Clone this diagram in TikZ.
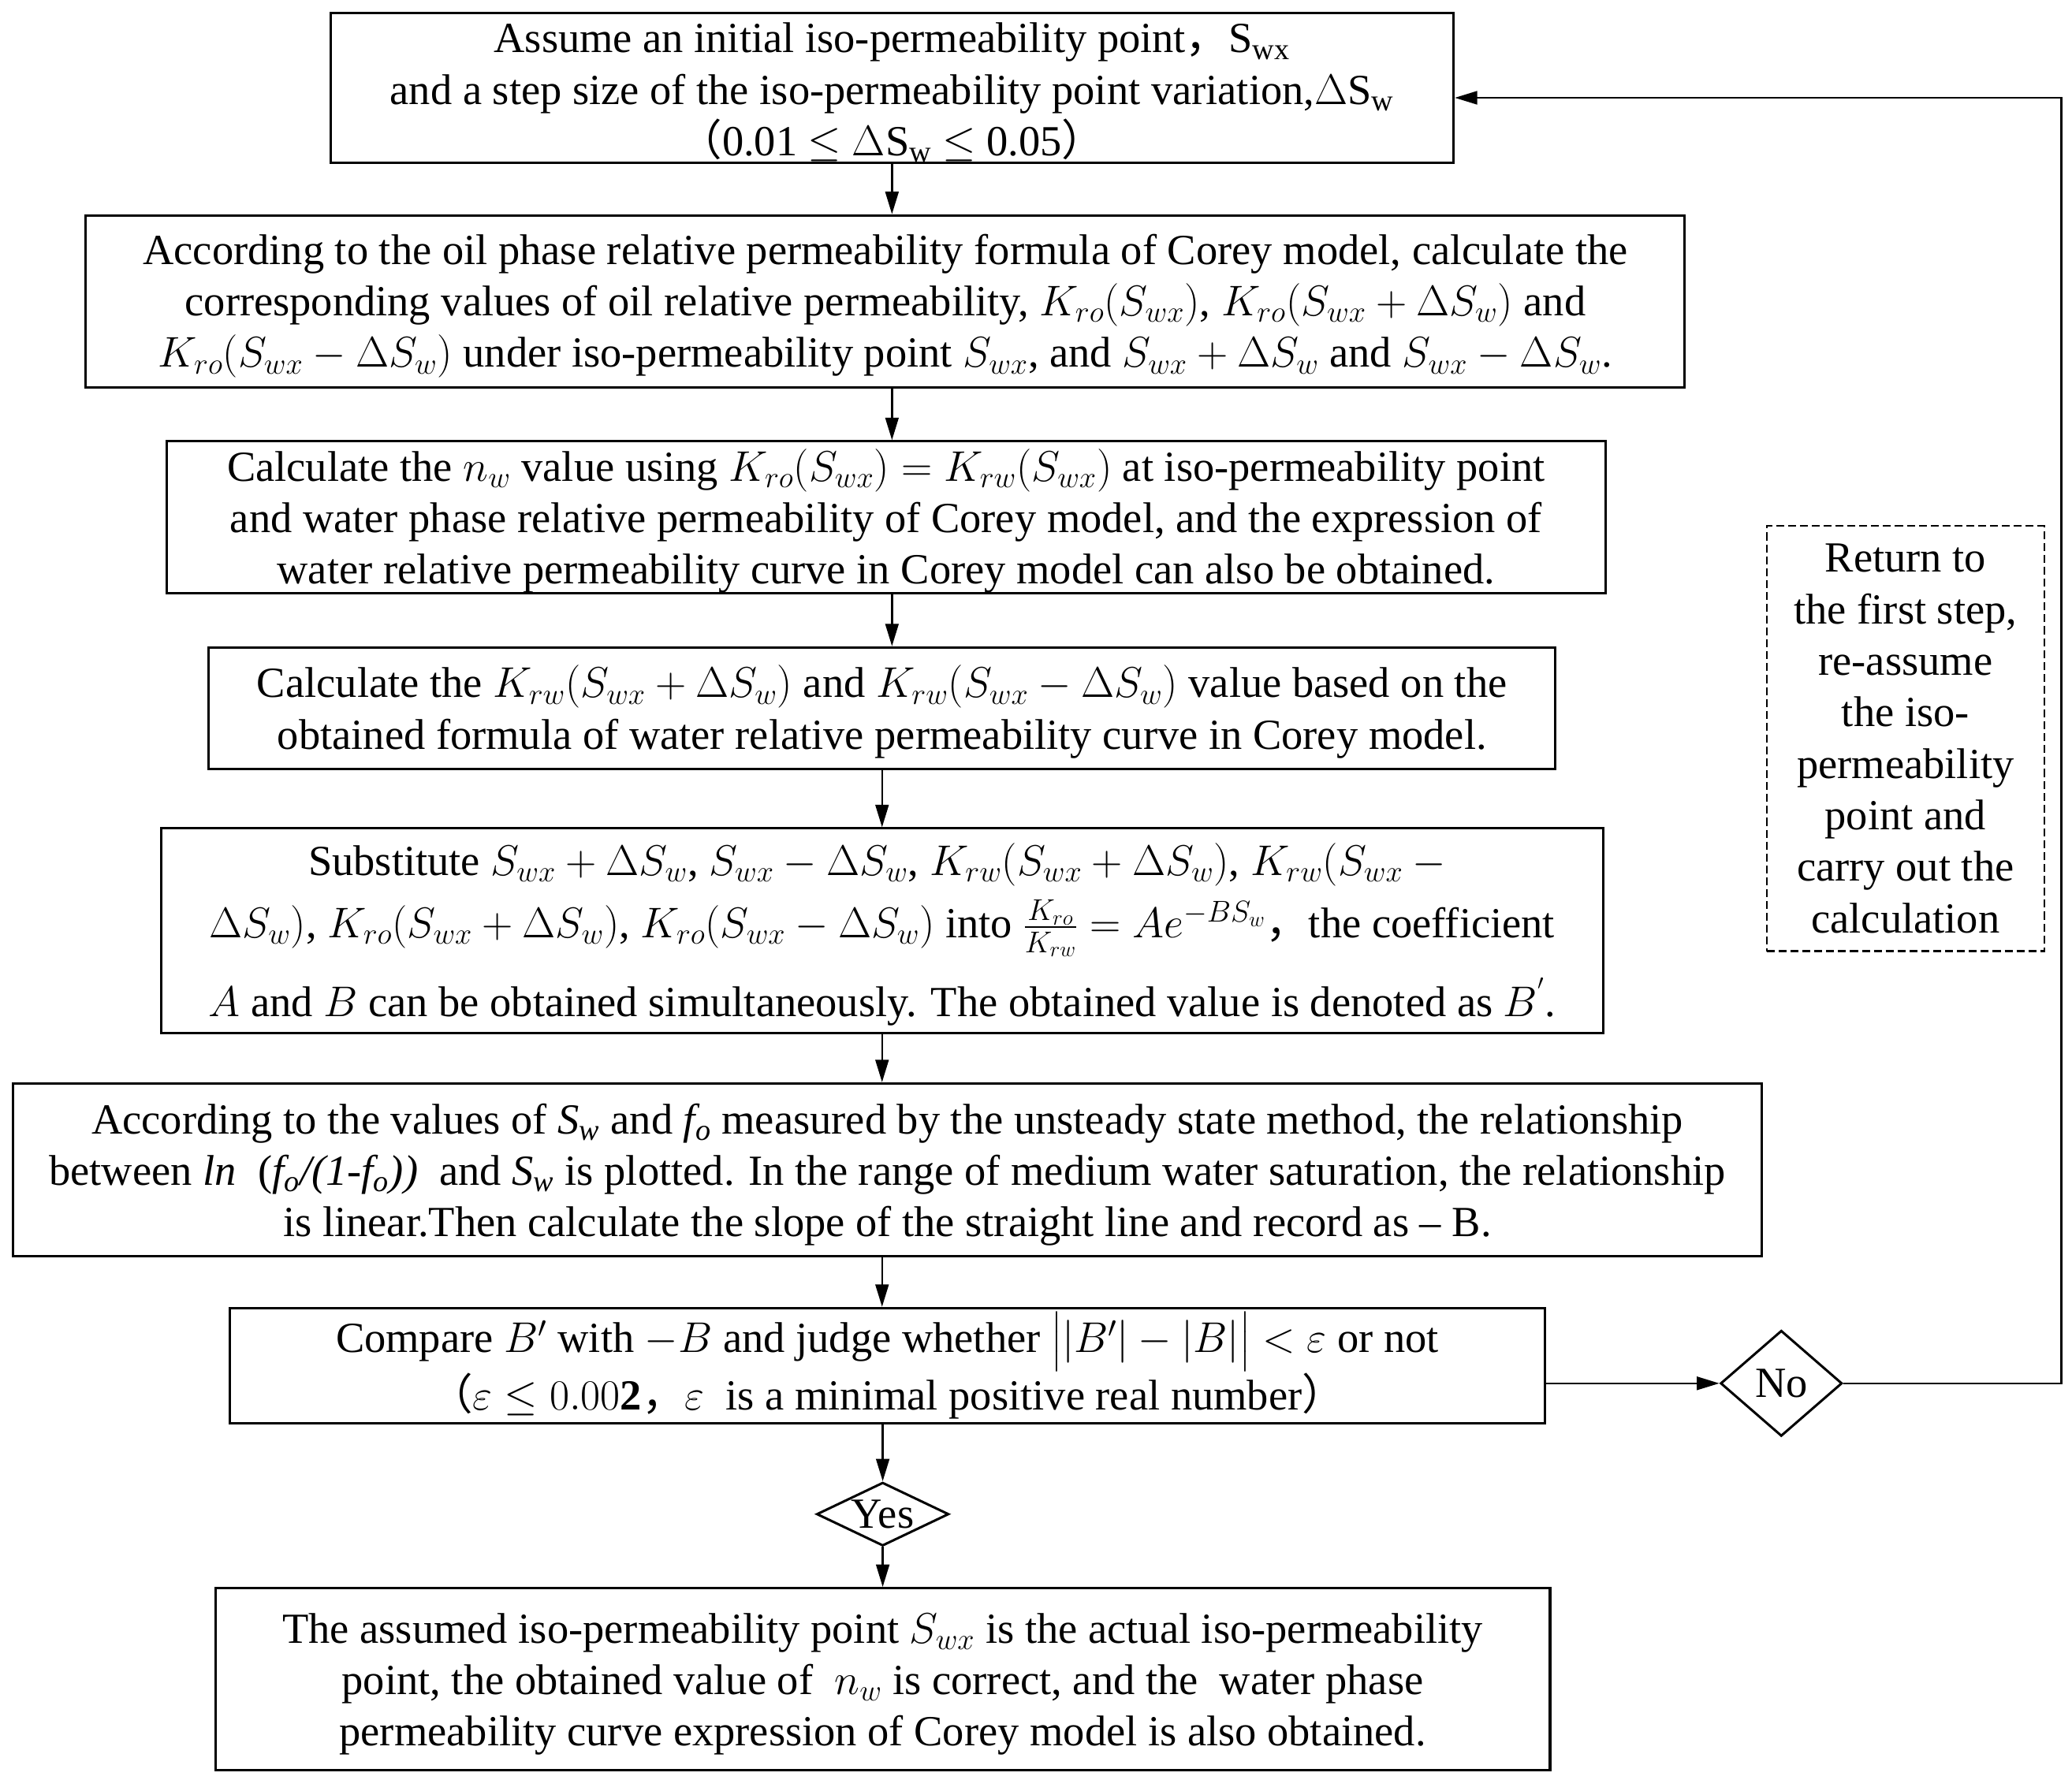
\RequirePackage{fix-cm}
\documentclass[tikz,border=0pt]{standalone}
\usepackage{amsmath}
\usepackage{fontspec}
\setmainfont{Liberation Serif}
\newfontfamily\cjk{Noto Sans CJK SC}
\usetikzlibrary{shapes.geometric,arrows.meta,calc}
\newcommand\mainfs{\fontsize{32.5}{39}\selectfont}
\newcommand\fw[1]{{\cjk #1}}
\begin{document}
\begin{tikzpicture}[x=1pt,y=-1pt,
  box/.style={draw, line width=1.8pt, inner sep=0pt, align=center, font=\mainfs},
  dbox/.style={draw, line width=1.5pt, dash pattern=on 6pt off 3pt, inner sep=0pt, align=center, font=\mainfs},
  dec/.style={draw, diamond, line width=1.8pt, inner sep=0pt},
  arr/.style={line width=1.5pt, -{Triangle[length=17pt,width=10pt]}},
  lbl/.style={font=\mainfs, inner sep=0pt}]
\fill[white] (0,0) rectangle (1568,1347);
\useasboundingbox (0,0) rectangle (1568,1347);

\node[box, minimum width=850pt, minimum height=113pt] (b1) at (675,66.5)
 {\rule{0pt}{30pt}Assume an initial iso-permeability point\fw{，}S\textsubscript{wx}\\
  and a step size of the iso-permeability point variation,$\Delta$S\textsubscript{w}\\
  \fw{（}0.01 $\leq$ $\Delta$S\textsubscript{w} $\leq$ 0.05\fw{）}};

\node[box, minimum width=1210pt, minimum height=130pt] (b2) at (670,228)
 {\rule{0pt}{30pt}According to the oil phase relative permeability formula of Corey model, calculate the\\
  corresponding values of oil relative permeability, $K_{ro}(S_{wx})$, $K_{ro}(S_{wx}+\Delta S_w)$ and\\
  $K_{ro}(S_{wx}-\Delta S_w)$ under iso-permeability point $S_{wx}$, and $S_{wx}+\Delta S_w$ and $S_{wx}-\Delta S_w$.};

\node[box, minimum width=1089pt, minimum height=111pt] (b3) at (670.5,391.5)
 {\rule{0pt}{30pt}Calculate the $n_w$ value using $K_{ro}(S_{wx})=K_{rw}(S_{wx})$ at iso-permeability point\\
  and water phase relative permeability of Corey model, and the expression of\\
  water relative permeability curve in Corey model can also be obtained.};

\node[box, minimum width=1019pt, minimum height=92pt] (b4) at (667.5,536)
 {\rule{0pt}{30pt}Calculate the $K_{rw}(S_{wx}+\Delta S_w)$ and $K_{rw}(S_{wx}-\Delta S_w)$ value based on the\\
  obtained formula of water relative permeability curve in Corey model.};

\node[box, minimum width=1091pt, minimum height=155pt] (b5) at (667.5,704.5)
 {\rule{0pt}{30pt}Substitute $S_{wx}+\Delta S_w$, $S_{wx}-\Delta S_w$, $K_{rw}(S_{wx}+\Delta S_w)$, $K_{rw}(S_{wx}-{}$\\[8pt]
  $\Delta S_w)$, $K_{ro}(S_{wx}+\Delta S_w)$, $K_{ro}(S_{wx}-\Delta S_w)$ into $\frac{K_{ro}}{K_{rw}}=Ae^{-BS_w}$\fw{，}the coefficient\\[15pt]
  $A$ and $B$ can be obtained simultaneously. The obtained value is denoted as $B^{'}$.};

\node[box, minimum width=1323pt, minimum height=131pt] (b6) at (671.5,885.5)
 {\rule{0pt}{30pt}According to the values of \textit{S\textsubscript{w}} and \textit{f\textsubscript{o}} measured by the unsteady state method, the relationship\\
  between \textit{ln}\enspace(\textit{f\textsubscript{o}/(1-f\textsubscript{o}))}\enspace and \textit{S\textsubscript{w}} is plotted. In the range of medium water saturation, the relationship\\
  is linear.Then calculate the slope of the straight line and record as -- B.};

\node[box, minimum width=995pt, minimum height=87pt] (b7) at (671.5,1033.5)
 {\rule{0pt}{30pt}Compare $B'$ with $-B$ and judge whether $\bigl||B'|-|B|\bigr|<\varepsilon$ or not\\
  \fw{（}$\varepsilon\leq 0.00\mathbf{2}$\fw{，}$\varepsilon$\enspace is a minimal positive real number\fw{）}};

\node[dec, minimum width=100pt, minimum height=48pt] (yes) at (668,1146) {};
\node[lbl] (yest) at (yes) {Yes};

\node[box, minimum width=1010pt, minimum height=138pt] (b8) at (668,1271)
 {\rule{0pt}{30pt}The assumed iso-permeability point $S_{wx}$ is the actual iso-permeability\\
  point, the obtained value of\enspace $n_w$ is correct, and the\enspace water phase\\
  permeability curve expression of Corey model is also obtained.};

\node[dec, minimum width=92pt, minimum height=80pt] (no) at (1348,1047) {};
\node[lbl] (not) at (no) {No};

\node[dbox, minimum width=210pt, minimum height=322pt] (ret) at (1442,559)
 {Return to\\the first step,\\re-assume\\the iso-\\permeability\\point and\\carry out the\\calculation};

\coordinate (rt) at (1560,74);

\draw[arr] (b1.south) -- (b1.south |- b2.north);
\draw[arr] (b2.south -| b1.south) -- (b1.south |- b3.north);
\draw[arr] (b3.south -| b1.south) -- (b1.south |- b4.north);
\draw[arr] (b4.south) -- (b4.south |- b5.north);
\draw[arr] (b5.south -| b4.south) -- (b4.south |- b6.north);
\draw[arr] (b6.south -| b4.south) -- (b4.south |- b7.north);
\draw[arr] (b7.south -| yes.north) -- (yes.north);
\draw[arr] (yes.south) -- (yes.south |- b8.north);
\draw[arr] (b7.east |- no.west) -- (no.west);
\draw[arr] (no.east) -- (no.east -| rt) -- (rt) -- (b1.east |- rt);
\end{tikzpicture}
\end{document}
